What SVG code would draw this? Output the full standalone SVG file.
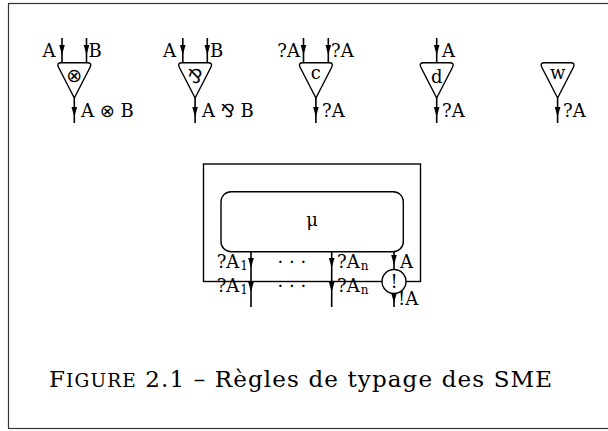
<svg xmlns="http://www.w3.org/2000/svg" xmlns:xlink="http://www.w3.org/1999/xlink" width="608" height="431" viewBox="0 0 608 431">
<style>
.lbl{font-family:"DejaVu Serif","DejaVu Sans",serif;font-size:18px;fill:#000}
.op{font-family:"DejaVu Sans",sans-serif;font-size:18px}
.sym{font-family:"DejaVu Sans",sans-serif;font-size:19px;fill:#000;text-anchor:middle}
.sub{font-size:12px}
.tri{fill:#fff;stroke:#000;stroke-width:1.4;stroke-linejoin:round}
.wire{stroke:#000;stroke-width:1.6;fill:none}
.frame{fill:none;stroke:#333;stroke-width:1.2}
.box{fill:none;stroke:#000;stroke-width:1.4}
.cap{font-family:"DejaVu Serif",serif;font-size:23px;fill:#000}
</style>
<defs>
<path id="ah" d="M0,0 L-2.8,-10 L2.8,-10 Z" fill="#000"/>
<path id="tri" d="M -13,-35.3 H 13 Q 18,-35.3 15.8,-30.8 L 0,0 L -15.8,-30.8 Q -18,-35.3 -13,-35.3 Z"/>
</defs>
<rect width="608" height="431" fill="#fff"/>
<rect class="frame" x="8.5" y="3.5" width="620" height="425"/>

<g id="connectors">
  <line class="wire" x1="62" y1="38" x2="62" y2="62.7"/><use href="#ah" x="62" y="55"/>
  <line class="wire" x1="86.5" y1="38" x2="86.5" y2="62.7"/><use href="#ah" x="86.5" y="55"/>
  <line class="wire" x1="74.3" y1="98" x2="74.3" y2="123"/><use href="#ah" x="74.3" y="117"/>
  <line class="wire" x1="182.8" y1="38" x2="182.8" y2="62.7"/><use href="#ah" x="182.8" y="55"/>
  <line class="wire" x1="207.3" y1="38" x2="207.3" y2="62.7"/><use href="#ah" x="207.3" y="55"/>
  <line class="wire" x1="195.1" y1="98" x2="195.1" y2="123"/><use href="#ah" x="195.1" y="117"/>
  <line class="wire" x1="303.5" y1="38" x2="303.5" y2="62.7"/><use href="#ah" x="303.5" y="55"/>
  <line class="wire" x1="328.3" y1="38" x2="328.3" y2="62.7"/><use href="#ah" x="328.3" y="55"/>
  <line class="wire" x1="315.9" y1="98" x2="315.9" y2="123"/><use href="#ah" x="315.9" y="117"/>
  <line class="wire" x1="436.7" y1="38" x2="436.7" y2="62.7"/><use href="#ah" x="436.7" y="55"/>
  <line class="wire" x1="436.7" y1="98" x2="436.7" y2="123"/><use href="#ah" x="436.7" y="117"/>
  <line class="wire" x1="557.6" y1="98" x2="557.6" y2="123"/><use href="#ah" x="557.6" y="117"/>
  <line class="wire" x1="251" y1="251.7" x2="251" y2="307"/><use href="#ah" x="251" y="268"/><use href="#ah" x="251" y="292"/>
  <line class="wire" x1="331.7" y1="251.7" x2="331.7" y2="307"/><use href="#ah" x="331.7" y="268"/><use href="#ah" x="331.7" y="292"/>
  <line class="wire" x1="394" y1="251.7" x2="394" y2="270"/><use href="#ah" x="394" y="265"/>
  <line class="wire" x1="394" y1="293" x2="394" y2="307"/><use href="#ah" x="394" y="303"/>
</g>

<g id="tensor">
  <use href="#tri" class="tri" x="74.3" y="98"/>
  <text class="sym" x="74.3" y="81.5">⊗</text>
  <text class="lbl" x="55.5" y="57" text-anchor="end">A</text>
  <text class="lbl" x="88.5" y="57">B</text>
  <text class="lbl" x="81" y="117">A <tspan class="op">⊗</tspan> B</text>
</g>
<g id="par">
  <use href="#tri" class="tri" x="195.1" y="98"/>
  <text class="sym" x="195.1" y="82.5">⅋</text>
  <text class="lbl" x="176" y="57" text-anchor="end">A</text>
  <text class="lbl" x="210" y="57">B</text>
  <text class="lbl" x="202" y="117">A <tspan class="op">⅋</tspan> B</text>
</g>
<g id="contraction">
  <use href="#tri" class="tri" x="315.9" y="98"/>
  <text class="lbl" x="315.9" y="78.5" text-anchor="middle">c</text>
  <text class="lbl" x="300" y="57" text-anchor="end">?A</text>
  <text class="lbl" x="331" y="57">?A</text>
  <text class="lbl" x="322" y="117">?A</text>
</g>
<g id="dereliction">
  <use href="#tri" class="tri" x="436.7" y="98"/>
  <text class="lbl" x="436.7" y="82.5" text-anchor="middle">d</text>
  <text class="lbl" x="442" y="57">A</text>
  <text class="lbl" x="442" y="117">?A</text>
</g>
<g id="weakening">
  <use href="#tri" class="tri" x="557.6" y="98"/>
  <text class="lbl" x="557.6" y="78.5" text-anchor="middle">w</text>
  <text class="lbl" x="563" y="117">?A</text>
</g>

<g id="promotion">
  <rect class="box" x="203.5" y="164" width="217" height="117.5"/>
  <g id="mu">
    <rect class="box" x="221" y="191.7" width="182.3" height="60" rx="10"/>
    <text class="lbl" x="312" y="226" text-anchor="middle">μ</text>
  </g>
  <g id="bang">
    <circle cx="394" cy="281.5" r="12" fill="#fff" stroke="#000" stroke-width="1.4"/>
    <text class="lbl" x="394" y="287.5" text-anchor="middle" font-size="16">!</text>
  </g>
  <text class="lbl" x="248" y="268" text-anchor="end">?A<tspan class="sub" dx="1" dy="2">1</tspan></text>
  <text class="lbl" x="277.5" y="268">· · ·</text>
  <text class="lbl" x="337" y="268">?A<tspan class="sub" dx="1" dy="2">n</tspan></text>
  <text class="lbl" x="400" y="268">A</text>
  <text class="lbl" x="248" y="291.7" text-anchor="end">?A<tspan class="sub" dx="1" dy="2">1</tspan></text>
  <text class="lbl" x="277.5" y="291.7">· · ·</text>
  <text class="lbl" x="337" y="291.7">?A<tspan class="sub" dx="1" dy="2">n</tspan></text>
  <text class="lbl" x="398" y="305">!A</text>
</g>

<g id="caption">
  <text class="cap" x="49" y="387" textLength="503" lengthAdjust="spacing">F<tspan font-size="18.5">IGURE</tspan> 2.1 – Règles de typage des SME</text>
</g>
</svg>
